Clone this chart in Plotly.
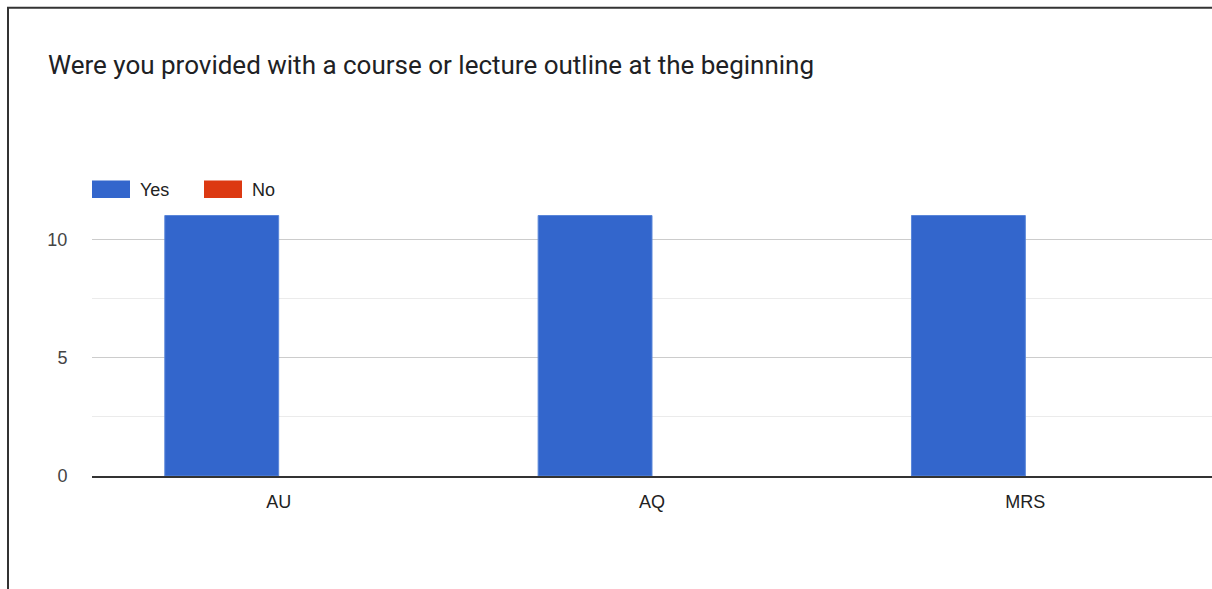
import plotly.graph_objects as go

categories = ["AU", "AQ", "MRS"]
yes_values = [11, 11, 11]
no_values = [0, 0, 0]
series_names = ["Yes", "No"]
series_colors = ["#3366CC", "#DC3912"]
title_text = "Were you provided with a course or lecture outline at the beginning"

W, H = 1212, 589
L, R, T, B = 92, 0, 180, 113
PW, PH = W - L - R, H - T - B


def px(x):
    return (x - L) / PW


def py(y):
    return (H - B - y) / PH


fig = go.Figure()
fig.add_trace(go.Bar(x=categories, y=yes_values, name=series_names[0],
                     marker=dict(color=series_colors[0], line=dict(width=1, color="#5a86d9"))))
fig.add_trace(go.Bar(x=categories, y=no_values, name=series_names[1],
                     marker=dict(color=series_colors[1], line=dict(width=0))))

shapes = []
# outer card border (left and top)
shapes.append(dict(type="path", xref="paper", yref="paper",
                   path=f"M {px(8)},{py(600)} L {px(8)},{py(7.7)} L {px(1230)},{py(7.7)}",
                   line=dict(color="#333333", width=2)))
annotations = []
# custom legend swatches
legend_x = [92, 204]
for i, (name, color) in enumerate(zip(series_names, series_colors)):
    x0 = legend_x[i]
    shapes.append(dict(type="rect", xref="paper", yref="paper",
                       x0=px(x0), x1=px(x0 + 38), y0=py(198), y1=py(180.5),
                       fillcolor=color, line=dict(width=0)))
    annotations.append(dict(text=name, xref="paper", yref="paper",
                            x=px(x0 + 46), y=py(189.5), xanchor="left", yanchor="middle",
                            showarrow=False,
                            font=dict(family="Liberation Sans, Arial", size=18, color="#222222")))

fig.update_layout(
    width=W, height=H,
    margin=dict(l=L, r=R, t=T, b=B, pad=0),
    paper_bgcolor="white", plot_bgcolor="white",
    showlegend=False,
    barmode="group", bargap=0.39, bargroupgap=0,
    title=dict(text=title_text, x=48 / W, xref="container", xanchor="left",
               y=1 - 65 / H, yref="container", yanchor="middle",
               font=dict(family="Roboto", size=26, color="#202124")),
    shapes=shapes,
    annotations=annotations,
    xaxis=dict(showgrid=False, showline=True, linecolor="#333333", linewidth=2,
               ticks="outside", ticklen=8, tickcolor="rgba(0,0,0,0)",
               tickfont=dict(family="Liberation Sans, Arial", size=18, color="#222222"),
               range=[-0.5, 2.5], fixedrange=True),
    yaxis=dict(range=[0, 12.5], dtick=5, tick0=0, showgrid=True, gridcolor="#cccccc", gridwidth=1,
               zeroline=False, showline=False,
               ticks="outside", ticklen=20, tickcolor="rgba(0,0,0,0)",
               tickfont=dict(family="Liberation Sans, Arial", size=18, color="#444444"),
               minor=dict(dtick=2.5, tick0=0, showgrid=True, gridcolor="#ebebeb", gridwidth=1),
               fixedrange=True),
)

fig.write_html("out.html", config={"displayModeBar": False},
               post_script="document.body.style.margin='0px';document.body.style.overflow='hidden';")
